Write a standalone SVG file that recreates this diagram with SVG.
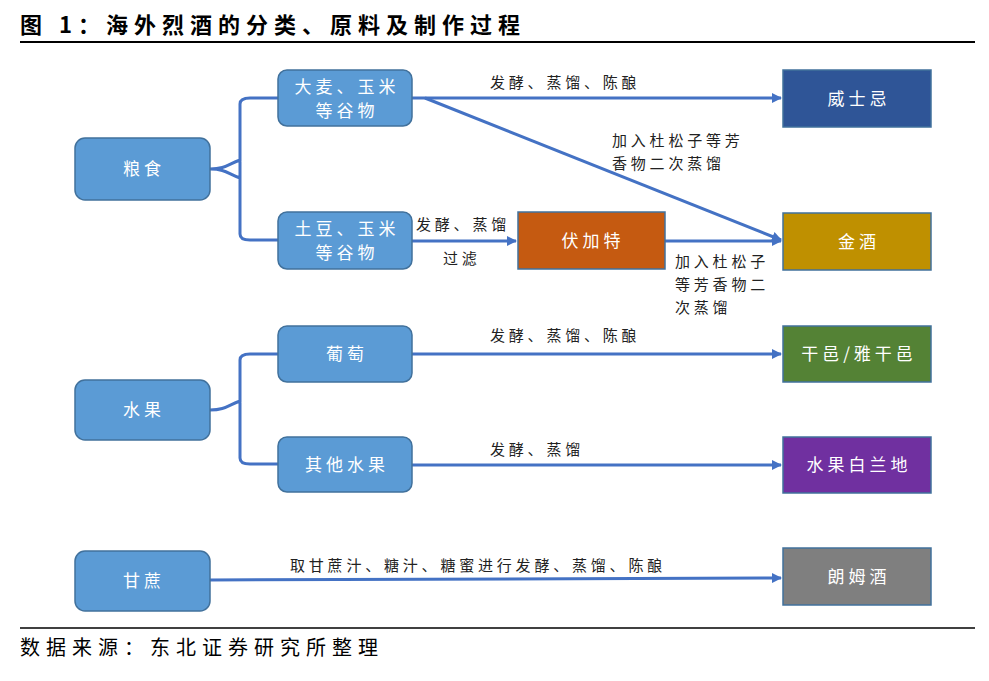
<svg xmlns="http://www.w3.org/2000/svg" width="989" height="681" viewBox="0 0 989 681">
<style>
text{font-family:"Noto Sans CJK SC","Noto Sans",sans-serif}
.n{fill:#5B9BD5;stroke:#41719C;stroke-width:1.5}
.p{stroke:#41719C;stroke-width:1.5}
.t{fill:#fff;font-size:17px;text-anchor:middle;letter-spacing:4px}
.l{fill:#222;font-size:15px;letter-spacing:3.8px}
.c{fill:none;stroke:#4472C4;stroke-width:3}
</style>
<defs><marker id="a" markerWidth="10" markerHeight="10" refX="9" refY="5" orient="auto" markerUnits="userSpaceOnUse"><path d="M0,0 L10,5 L0,10z" fill="#4472C4"/></marker></defs>
<rect width="989" height="681" fill="#fff"/>
<text x="20" y="33" style="font-size:22px;font-weight:bold;letter-spacing:6px" fill="#000">图 1：海外烈酒的分类、原料及制作过程</text>
<line x1="20" y1="42" x2="975" y2="42" stroke="#000" stroke-width="2"/>
<line x1="20" y1="628" x2="975" y2="628" stroke="#000" stroke-width="1.5"/>
<text x="20" y="655" style="font-size:20px;letter-spacing:6px" fill="#000">数据来源：东北证券研究所整理</text>
<g id="connectors">
<path class="c" d="M210,169 C226,169 228,164 240,160 L240,104 Q240,98 250,98 L278,98 M240,160 L240,234 Q240,240 250,240 L278,240 M240,178 C228,174 226,169 210,169"/>
<path class="c" d="M210,410 C226,410 228,405 240,401 L240,360 Q240,354 250,354 L278,354 M240,401 L240,458 Q240,464 250,464 L278,464"/>
<line class="c" x1="412" y1="98" x2="781" y2="98" marker-end="url(#a)"/>
<line class="c" x1="425" y1="98" x2="781" y2="240" marker-end="url(#a)"/>
<line class="c" x1="412" y1="241" x2="516" y2="241" marker-end="url(#a)"/>
<line class="c" x1="665" y1="241" x2="781" y2="241" marker-end="url(#a)"/>
<line class="c" x1="412" y1="354" x2="781" y2="354" marker-end="url(#a)"/>
<line class="c" x1="412" y1="465" x2="781" y2="465" marker-end="url(#a)"/>
<line class="c" x1="210" y1="580" x2="781" y2="578" marker-end="url(#a)"/>
<text class="l" x="490" y="88">发酵、蒸馏、陈酿</text>
<text class="l" x="612" y="146">加入杜松子等芳</text>
<text class="l" x="612" y="169">香物二次蒸馏</text>
<text class="l" x="416" y="230">发酵、蒸馏</text>
<text class="l" x="443" y="264">过滤</text>
<text class="l" x="675" y="267">加入杜松子</text>
<text class="l" x="675" y="290">等芳香物二</text>
<text class="l" x="675" y="313">次蒸馏</text>
<text class="l" x="490" y="341">发酵、蒸馏、陈酿</text>
<text class="l" x="490" y="455">发酵、蒸馏</text>
<text class="l" x="290" y="571">取甘蔗汁、糖汁、糖蜜进行发酵、蒸馏、陈酿</text>
</g>
<g id="liangshi"><rect class="n" x="75" y="138" width="135" height="62" rx="10"/><text class="t" x="144" y="175">粮食</text></g>
<g id="damai"><rect class="n" x="278" y="70" width="134" height="56" rx="9"/><text class="t" x="347" y="93">大麦、玉米</text><text class="t" x="347" y="117">等谷物</text></g>
<g id="tudou"><rect class="n" x="278" y="212" width="134" height="57" rx="9"/><text class="t" x="347" y="235">土豆、玉米</text><text class="t" x="347" y="259">等谷物</text></g>
<g id="weishiji"><rect class="p" fill="#2F5597" x="783" y="70" width="148" height="57"/><text class="t" x="859" y="105">威士忌</text></g>
<g id="fujiate"><rect class="p" fill="#C55A11" x="518" y="212" width="147" height="57"/><text class="t" x="593" y="247">伏加特</text></g>
<g id="jinjiu"><rect class="p" fill="#BF9000" x="783" y="213" width="148" height="57"/><text class="t" x="859" y="248">金酒</text></g>
<g id="shuiguo"><rect class="n" x="75" y="380" width="135" height="60" rx="10"/><text class="t" x="144" y="416">水果</text></g>
<g id="putao"><rect class="n" x="278" y="326" width="134" height="56" rx="9"/><text class="t" x="347" y="360">葡萄</text></g>
<g id="qitashuiguo"><rect class="n" x="278" y="437" width="134" height="55" rx="9"/><text class="t" x="347" y="471">其他水果</text></g>
<g id="ganyi"><rect class="p" fill="#548235" x="783" y="326" width="148" height="56"/><text class="t" x="859" y="360">干邑/雅干邑</text></g>
<g id="bailandi"><rect class="p" fill="#7030A0" x="783" y="437" width="148" height="56"/><text class="t" x="859" y="471">水果白兰地</text></g>
<g id="ganzhe"><rect class="n" x="75" y="551" width="135" height="60" rx="10"/><text class="t" x="144" y="587">甘蔗</text></g>
<g id="langmujiu"><rect class="p" fill="#7F7F7F" x="783" y="548" width="148" height="57"/><text class="t" x="859" y="583">朗姆酒</text></g>
</svg>
